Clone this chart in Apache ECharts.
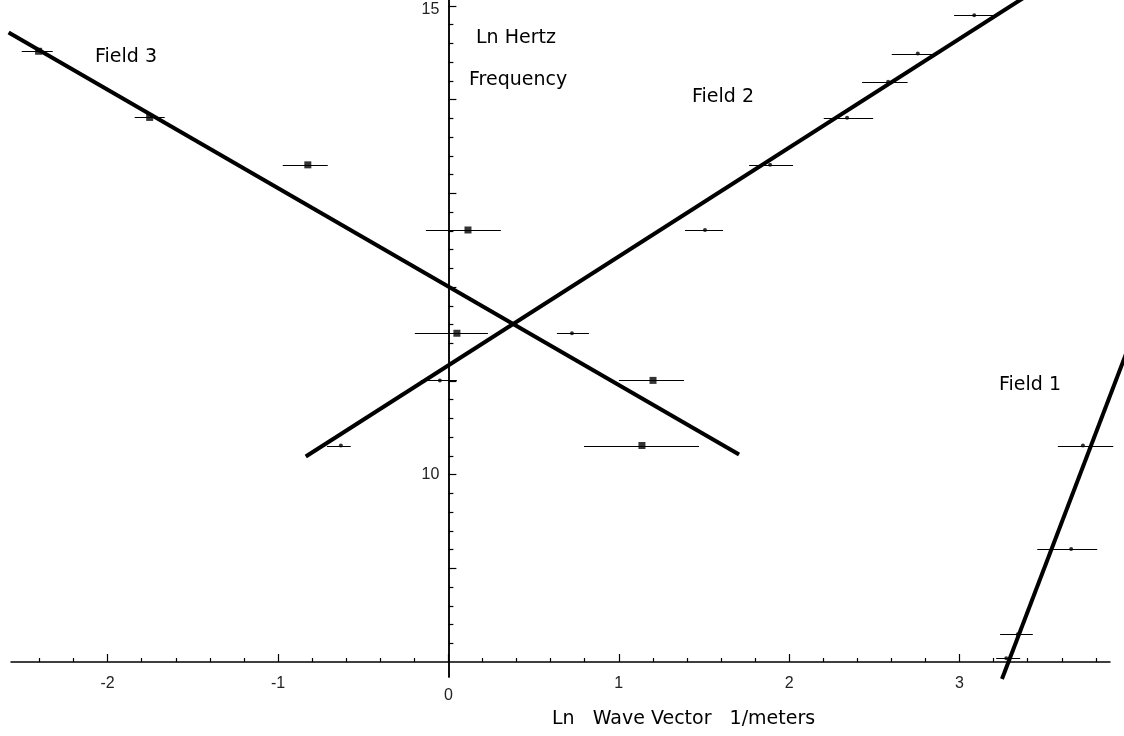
<!DOCTYPE html>
<html><head><meta charset="utf-8">
<script src="https://cdn.jsdelivr.net/npm/echarts@6/dist/echarts.min.js"></script>
<style>html,body{margin:0;padding:0;background:#fff}#c{width:1124px;height:736px}</style>
</head><body><div id="c"></div>
<script>
// ---- axis ticks / labels ----
const xMajorTicks = [-2, -1, 0, 1, 2, 3];
const xMinorTicks = [-2.4, -2.2, -1.8, -1.6, -1.4, -1.2, -0.8, -0.6, -0.4, -0.2, 0.2, 0.4, 0.6, 0.8,
                     1.2, 1.4, 1.6, 1.8, 2.2, 2.4, 2.6, 2.8, 3.2, 3.4, 3.6, 3.8];
const yMajorTicks = [9, 10, 11, 12, 13, 14, 15];
const yLabelTicks = [10, 15];
const yMinorTicks = [8.2, 8.4, 8.6, 8.8, 9.2, 9.4, 9.6, 9.8, 10.2, 10.4, 10.6, 10.8, 11.2, 11.4, 11.6, 11.8,
                     12.2, 12.4, 12.6, 12.8, 13.2, 13.4, 13.6, 13.8, 14.2, 14.4, 14.6, 14.8];

// ---- Field 3 (squares) ----
const field3X  = [-2.405, -1.753, -0.825, 0.115, 0.050, 1.201, 1.136];
const field3Y  = [14.517, 13.811, 13.305, 12.610, 11.508, 11.005, 10.310];
const field3Lo = [-2.504, -1.841, -0.972, -0.132, -0.197, 1.001, 0.796];
const field3Hi = [-2.322, -1.665, -0.708, 0.308, 0.232, 1.383, 1.471];
const fit3 = [[-2.581, 14.717], [1.706, 10.214]];

// ---- Field 2 ----
const field2X  = [-0.631, -0.050, 0.725, 1.506, 1.888, 2.340, 2.581, 2.755, 3.086];
const field2Y  = [10.310, 11.005, 11.508, 12.610, 13.305, 13.807, 14.193, 14.492, 14.901];
const field2Lo = [-0.713, -0.161, 0.637, 1.389, 1.765, 2.203, 2.428, 2.602, 2.968];
const field2Hi = [-0.573, 0.050, 0.825, 1.612, 2.023, 2.493, 2.695, 2.857, 3.203];
const fit2 = [[-0.837, 10.193], [3.430, 15.150]];

// ---- Field 1 ----
const field1X  = [3.724, 3.655, 3.342, 3.274];
const field1Y  = [10.310, 9.205, 8.296, 8.040];
const field1Lo = [3.577, 3.456, 3.238, 3.215];
const field1Hi = [3.902, 3.808, 3.430, 3.356];
const fit1 = [[3.249, 7.818], [3.990, 11.350]];

// axis ranges (visible axes)
const X_MIN = -2.567, X_MAX = 3.883, Y_MIN = 7.84, Y_MAX = 15.064;
const W = 1124, H = 736;
const AX_L = 11, AX_R = 14, AX_T = 0, AX_B = 59;          // visible axes box
const SX = (W - AX_L - AX_R) / (X_MAX - X_MIN);           // px per unit x
const SY = (H - AX_T - AX_B) / (Y_MAX - Y_MIN);           // px per unit y
// plotting area spans the whole canvas with the same scale, so fitted lines are not cut at the axes
const PX_MIN = X_MIN - AX_L / SX, PX_MAX = X_MAX + AX_R / SX;
const PY_MIN = Y_MIN - AX_B / SY, PY_MAX = Y_MAX + AX_T / SY;
// y axis sits at x = 0
const Y_AXIS_SHIFT = -SX * (0 - X_MIN);

function rows(xs, ys, lo, hi) { return xs.map((x, i) => [x, ys[i], lo[i], hi[i]]); }

const TXT = 'DejaVu Sans';
const TICKF = 'Liberation Sans';

function errBars(data) {
  return {
    type: 'custom', data: data, encode: { x: [2, 3], y: 1 }, z: 2, silent: true, xAxisIndex: 2, yAxisIndex: 2,
    renderItem: function (params, api) {
      const a = api.coord([api.value(2), api.value(1)]);
      const b = api.coord([api.value(3), api.value(1)]);
      const y = Math.round(a[1]) + 0.5;
      return { type: 'line', shape: { x1: a[0], y1: y, x2: b[0], y2: y }, style: { stroke: '#000', lineWidth: 1 } };
    }
  };
}
function marks(data, symbol, size) {
  return { type: 'scatter', data: data.map(r => [r[0], r[1]]), symbol: symbol, symbolSize: size,
           xAxisIndex: 2, yAxisIndex: 2, itemStyle: { color: '#000' }, z: 3, silent: true };
}
function fit(data) {
  return { type: 'line', data: data, symbol: 'none', clip: false, z: 4, silent: true,
           xAxisIndex: 2, yAxisIndex: 2, lineStyle: { color: '#000', width: 4 } };
}

const axisLineStyle = { color: '#000', width: 1.5 };
const tickLine = { color: '#000', width: 1.2 };

const chart = echarts.init(document.getElementById('c'), null, { renderer: 'canvas' });
chart.setOption({
  animation: false,
  backgroundColor: '#fff',
  grid: [
    { left: AX_L, right: AX_R, top: AX_T, bottom: AX_B, containLabel: false, outerBoundsMode: 'none' },
    { left: 0, right: 0, top: 0, bottom: 0, containLabel: false, outerBoundsMode: 'none' }
  ],
  xAxis: [
    { gridIndex: 0, type: 'value', min: X_MIN, max: X_MAX, position: 'bottom', offset: -SY * (8 - Y_MIN),
      axisLine: { show: true, onZero: false, lineStyle: axisLineStyle },
      axisTick: { show: true, inside: true, length: 8, customValues: xMajorTicks, lineStyle: tickLine },
      axisLabel: { show: true, customValues: xMajorTicks, margin: 14, color: '#222', fontFamily: TICKF, fontSize: 16,
                   formatter: v => (v === 0 ? '{z|0}' : String(v)),
                   rich: { z: { padding: [12, 0, 0, 0], color: '#222', fontFamily: TICKF, fontSize: 16 } } },
      splitLine: { show: false } },
    { gridIndex: 0, type: 'value', min: X_MIN, max: X_MAX, position: 'bottom', offset: -SY * (8 - Y_MIN),
      axisLine: { show: false, onZero: false },
      axisTick: { show: true, inside: true, length: 4, customValues: xMinorTicks, lineStyle: tickLine },
      axisLabel: { show: false }, splitLine: { show: false } },
    { gridIndex: 1, type: 'value', min: PX_MIN, max: PX_MAX, show: false }
  ],
  yAxis: [
    { gridIndex: 0, type: 'value', min: Y_MIN, max: Y_MAX, position: 'left', offset: Y_AXIS_SHIFT,
      axisLine: { show: true, onZero: false, lineStyle: axisLineStyle },
      axisTick: { show: true, inside: true, length: 8, customValues: yMajorTicks, lineStyle: tickLine },
      axisLabel: { show: true, customValues: yLabelTicks, margin: 9, color: '#222', fontFamily: TICKF, fontSize: 16,
                   formatter: v => (v === 15 ? '{t|15}' : String(v)),
                   rich: { t: { padding: [7, 0, 0, 0], color: '#222', fontFamily: TICKF, fontSize: 16 } } },
      splitLine: { show: false } },
    { gridIndex: 0, type: 'value', min: Y_MIN, max: Y_MAX, position: 'left', offset: Y_AXIS_SHIFT,
      axisLine: { show: true, onZero: false, lineStyle: axisLineStyle },
      axisTick: { show: true, inside: true, length: 5, customValues: yMinorTicks, lineStyle: tickLine },
      axisLabel: { show: false }, splitLine: { show: false } },
    { gridIndex: 1, type: 'value', min: PY_MIN, max: PY_MAX, show: false }
  ],
  series: [
    errBars(rows(field3X, field3Y, field3Lo, field3Hi)),
    errBars(rows(field2X, field2Y, field2Lo, field2Hi)),
    errBars(rows(field1X, field1Y, field1Lo, field1Hi)),
    marks(rows(field3X, field3Y, field3Lo, field3Hi), 'rect', 7),
    marks(rows(field2X, field2Y, field2Lo, field2Hi), 'circle', 4),
    marks(rows(field1X, field1Y, field1Lo, field1Hi), 'circle', 4),
    fit(fit3), fit(fit2), fit(fit1)
  ],
  graphic: [
    { type: 'text', x: 476, y: 38, style: { text: 'Ln Hertz', fontFamily: TXT, fontSize: 19, fill: '#000', align: 'left', verticalAlign: 'middle' } },
    { type: 'text', x: 469, y: 80, style: { text: 'Frequency', fontFamily: TXT, fontSize: 19, fill: '#000', align: 'left', verticalAlign: 'middle' } },
    { type: 'text', x: 95, y: 57, style: { text: 'Field 3', fontFamily: TXT, fontSize: 19, fill: '#000', align: 'left', verticalAlign: 'middle' } },
    { type: 'text', x: 692, y: 97, style: { text: 'Field 2', fontFamily: TXT, fontSize: 19, fill: '#000', align: 'left', verticalAlign: 'middle' } },
    { type: 'text', x: 999, y: 385, style: { text: 'Field 1', fontFamily: TXT, fontSize: 19, fill: '#000', align: 'left', verticalAlign: 'middle' } },
    { type: 'text', x: 552, y: 719, style: { text: 'Ln   Wave Vector   1/meters', fontFamily: TXT, fontSize: 19, fill: '#000', align: 'left', verticalAlign: 'middle' } }
  ]
});
</script>
</body></html>
